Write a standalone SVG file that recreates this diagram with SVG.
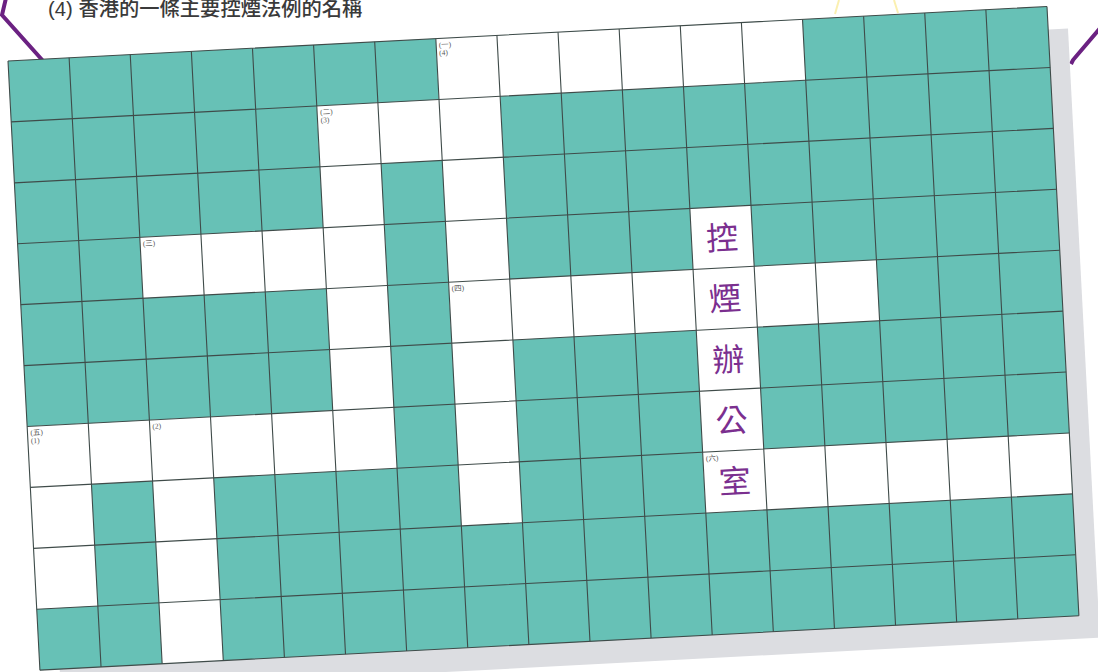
<svg xmlns="http://www.w3.org/2000/svg" width="1098" height="672" viewBox="0 0 1098 672">
<style>
.w{fill:#ffffff}
.lbl{font-family:"Liberation Serif","Noto Sans CJK TC",serif;font-size:7.5px;fill:#555555}
.ch{font-family:"Noto Sans CJK TC","Noto Sans CJK SC",sans-serif;font-size:32px;fill:#7b2f8f;text-anchor:middle}
.title{font-family:"Liberation Sans","Noto Sans CJK TC",sans-serif;font-size:20.3px;font-weight:500;fill:#3a3a3a}
</style>
<rect width="1098" height="672" fill="#ffffff"/>
<g id="decor">
<polyline points="6,-2 2,15 44,62" fill="none" stroke="#6b2182" stroke-width="4" stroke-linejoin="miter"/>
<polyline points="1101,27 1073,60 1071,64" fill="none" stroke="#6b2182" stroke-width="4"/>
<line x1="839" y1="0" x2="835" y2="14" stroke="#fbf0b0" stroke-width="2"/>
<line x1="894" y1="0" x2="898" y2="13" stroke="#fbf0b0" stroke-width="2"/>
</g>
<text id="title" class="title" x="48" y="16">(4) 香港的一條主要控煙法例的名稱</text>
<g id="shadow" transform="translate(29,83) rotate(-3)">
<rect x="0" y="0" width="1040.4" height="610" fill="#dcdde1"/>
</g>
<g id="grid" transform="translate(8,61) rotate(-3)">
<rect id="board" x="0" y="0" width="1040.4" height="610" fill="#67c1b6"/>
<g id="across-1"><rect class="w" x="428.4" y="0" width="367.2" height="61"/></g>
<g id="down-4"><rect class="w" x="428.4" y="0" width="61.2" height="488"/></g>
<g id="across-2"><rect class="w" x="306" y="61" width="183.6" height="61"/></g>
<g id="down-3"><rect class="w" x="306" y="61" width="61.2" height="366"/></g>
<g id="across-3"><rect class="w" x="122.4" y="183" width="244.8" height="61"/></g>
<g id="across-4"><rect class="w" x="428.4" y="244" width="428.4" height="61"/></g>
<g id="down-answer"><rect class="w" x="673.2" y="183" width="61.2" height="305"/></g>
<g id="across-5"><rect class="w" x="0" y="366" width="367.2" height="61"/></g>
<g id="down-1"><rect class="w" x="0" y="366" width="61.2" height="183"/></g>
<g id="down-2"><rect class="w" x="122.4" y="366" width="61.2" height="244"/></g>
<g id="across-6"><rect class="w" x="673.2" y="427" width="367.2" height="61"/></g>
<g id="gridlines" fill="none" stroke="#3f4b49" stroke-width="1.1">
<path d="M0,0V610M61.2,0V610M122.4,0V610M183.6,0V610M244.8,0V610M306,0V610M367.2,0V610M428.4,0V610M489.6,0V610M550.8,0V610M612,0V610M673.2,0V610M734.4,0V610M795.6,0V610M856.8,0V610M918,0V610M979.2,0V610M1040.4,0V610"/>
<path d="M0,0H1040.4M0,61H1040.4M0,122H1040.4M0,183H1040.4M0,244H1040.4M0,305H1040.4M0,366H1040.4M0,427H1040.4M0,488H1040.4M0,549H1040.4M0,610H1040.4"/>
</g>
<g id="labels">
<text class="lbl" x="431" y="9">(一)</text><text class="lbl" x="431" y="17">(4)</text>
<text class="lbl" x="309" y="70">(二)</text><text class="lbl" x="309" y="78">(3)</text>
<text class="lbl" x="125" y="192">(三)</text>
<text class="lbl" x="431" y="253">(四)</text>
<text class="lbl" x="3" y="375">(五)</text><text class="lbl" x="3" y="383">(1)</text>
<text class="lbl" x="125" y="375">(2)</text>
<text class="lbl" x="676" y="436">(六)</text>
</g>
<g id="answer">
<text class="ch" x="703.8" y="225.5">控</text>
<text class="ch" x="703.8" y="286.5">煙</text>
<text class="ch" x="703.8" y="347.5">辦</text>
<text class="ch" x="703.8" y="408.5">公</text>
<text class="ch" x="703.8" y="469.5">室</text>
</g>
</g>
</svg>
